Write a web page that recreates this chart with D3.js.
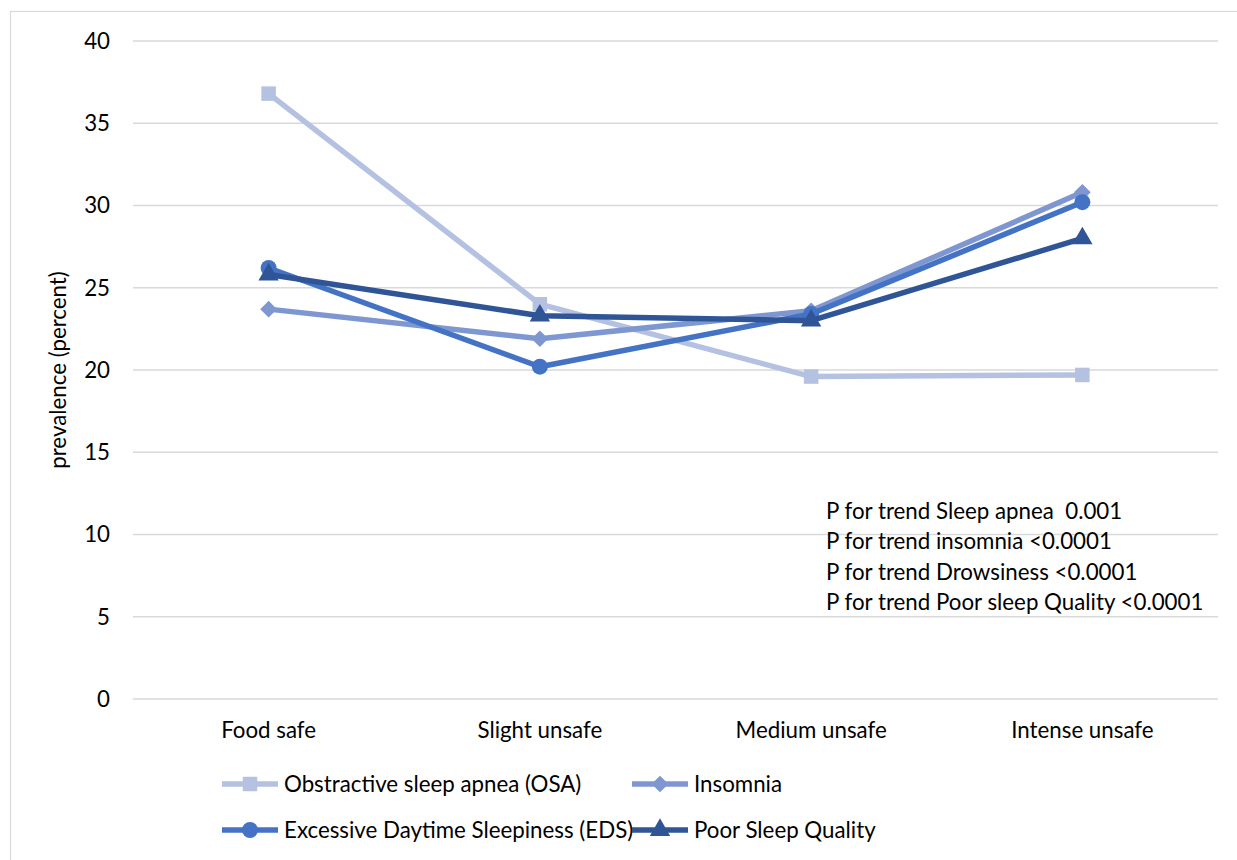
<!DOCTYPE html>
<html><head><meta charset="utf-8">
<script src="https://cdn.jsdelivr.net/npm/d3@7"></script>
<style>body{margin:0;background:#fff}svg{display:block}text{font-family:Lato,"Open Sans",sans-serif;fill:#000}</style>
</head><body>
<svg id="c" width="1237" height="860"></svg>
<script>
const categories = ["Food safe", "Slight unsafe", "Medium unsafe", "Intense unsafe"];
const seriesNames = ["Obstractive sleep apnea (OSA)", "Insomnia", "Excessive Daytime Sleepiness (EDS)", "Poor Sleep Quality"];
const osa = [36.8, 24.0, 19.6, 19.7];
const insomnia = [23.7, 21.9, 23.6, 30.8];
const eds = [26.2, 20.2, 23.4, 30.2];
const psq = [25.8, 23.3, 23.0, 28.0];
const yTicks = [0, 5, 10, 15, 20, 25, 30, 35, 40];
const notes = ["P for trend Sleep apnea  0.001", "P for trend insomnia <0.0001", "P for trend Drowsiness <0.0001", "P for trend Poor sleep Quality <0.0001"];

const colors = ["#b4c1e1", "#7f97d1", "#4472c4", "#2f5597"];
const symbols = [d3.symbolSquare, d3.symbolSquare, d3.symbolCircle, d3.symbolTriangle];
const symRot = [0, 45, 0, 0];
const symSizes = [210, 140, 200, 180];
const data = [osa, insomnia, eds, psq];
const FS = "22.3px";

const svg = d3.select("#c");
svg.append("rect").attr("x", 10.5).attr("y", 11.5).attr("width", 1300).attr("height", 900)
  .attr("fill", "none").attr("stroke", "#d9d9d9").attr("stroke-width", 1.2);

const x = d3.scaleBand().domain(categories).range([133, 1218]);
const y = d3.scaleLinear().domain([0, 40]).range([699, 41]);

svg.append("g").selectAll("line").data(yTicks).join("line")
  .attr("x1", 133).attr("x2", 1218).attr("y1", d => y(d)).attr("y2", d => y(d))
  .attr("stroke", "#d9d9d9").attr("stroke-width", 1.5);

svg.append("g").selectAll("text").data(yTicks).join("text")
  .attr("x", 110).attr("y", d => y(d)).attr("dy", "0.35em").attr("text-anchor", "end")
  .style("font-size", FS).text(d => d);

svg.append("g").selectAll("text").data(categories).join("text")
  .attr("x", d => x(d) + x.bandwidth() / 2).attr("y", 738).attr("text-anchor", "middle")
  .style("font-size", FS).text(d => d);

svg.append("text").attr("transform", "translate(66,370) rotate(-90)").attr("text-anchor", "middle")
  .style("font-size", FS).text("prevalence (percent)");

const cx = (i) => x(categories[i]) + x.bandwidth() / 2;
const line = d3.line().x((d, i) => cx(i)).y(d => y(d));

data.forEach((vals, s) => {
  const g = svg.append("g");
  g.append("path").datum(vals).attr("d", line).attr("fill", "none")
    .attr("stroke", colors[s]).attr("stroke-width", 5.5).attr("stroke-linejoin", "round");
  g.selectAll("path.m").data(vals).join("path").attr("class", "m")
    .attr("transform", (d, i) => `translate(${cx(i)},${y(d)}) rotate(${symRot[s]})`)
    .attr("d", d3.symbol().type(symbols[s]).size(symSizes[s])).attr("fill", colors[s]);
});

svg.append("g").selectAll("text").data(notes).join("text")
  .attr("x", 826).attr("y", (d, i) => 519 + i * 30.3)
  .style("font-size", FS).style("white-space", "pre").text(d => d);

const legPos = [[222, 784], [632, 784], [222, 830], [632, 830]];
seriesNames.forEach((name, s) => {
  const [lx, ly] = legPos[s];
  const g = svg.append("g");
  g.append("line").attr("x1", lx).attr("x2", lx + 56).attr("y1", ly).attr("y2", ly)
    .attr("stroke", colors[s]).attr("stroke-width", 5.5);
  g.append("path").attr("transform", `translate(${lx + 28},${ly}) rotate(${symRot[s]})`)
    .attr("d", d3.symbol().type(symbols[s]).size(symSizes[s])).attr("fill", colors[s]);
  g.append("text").attr("x", lx + 62).attr("y", ly).attr("dy", "0.35em")
    .style("font-size", FS).text(name);
});
</script>
</body></html>
